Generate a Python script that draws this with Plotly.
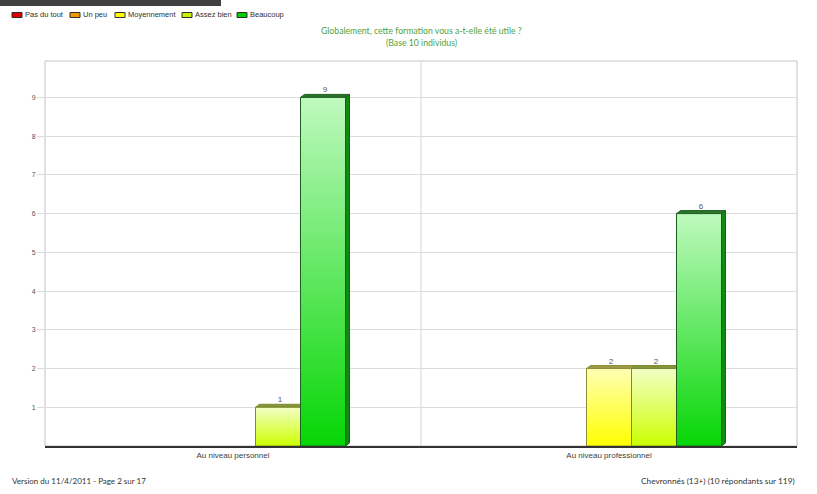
import plotly.graph_objects as go

# ---- data -------------------------------------------------------------
categories = ["Au niveau personnel", "Au niveau professionnel"]
series = ["Pas du tout", "Un peu", "Moyennement", "Assez bien", "Beaucoup"]
values = {
    "Pas du tout": [0, 0],
    "Un peu": [0, 0],
    "Moyennement": [0, 2],
    "Assez bien": [1, 2],
    "Beaucoup": [9, 6],
}
y_ticks = [1, 2, 3, 4, 5, 6, 7, 8, 9]

title_lines = ["Globalement, cette formation vous a-t-elle été utile ?", "(Base 10 individus)"]
footer_left = "Version du 11/4/2011 - Page 2 sur 17"
footer_right = "Chevronnés (13+) (10 répondants sur 119)"

# ---- styles -------------------------------------------------------------
legend_color = {
    "Pas du tout": "#e00000",
    "Un peu": "#f09400",
    "Moyennement": "#ffff00",
    "Assez bien": "#cdee00",
    "Beaucoup": "#00cc00",
}
grad = {  # bottom, top of the front face
    "Pas du tout": ("#d80000", "#ff9a9a"),
    "Un peu": ("#ff9400", "#ffd59a"),
    "Moyennement": ("#ffff00", "#ffffb4"),
    "Assez bien": ("#ccff00", "#f3ffc6"),
    "Beaucoup": ("#06d606", "#bff9bf"),
}
edge = {
    "Pas du tout": "#6a1010",
    "Un peu": "#7a5010",
    "Moyennement": "#8c8c3a",
    "Assez bien": "#7c8a30",
    "Beaucoup": "#1e5e1e",
}
side = {
    "Pas du tout": "#900000",
    "Un peu": "#a06000",
    "Moyennement": "#a8a830",
    "Assez bien": "#8aa020",
    "Beaucoup": "#108a10",
}
top_face = {
    "Pas du tout": "#802020",
    "Un peu": "#906020",
    "Moyennement": "#9a9a44",
    "Assez bien": "#86943a",
    "Beaucoup": "#2c742c",
}

W, H = 817, 494
M_L, M_R, M_T, M_B = 45, 20, 61, 48
Y_MAX = 9.94
X_RANGE = (-0.5, 1.5)

plot_w = W - M_L - M_R
plot_h = H - M_T - M_B
px_per_x = plot_w / (X_RANGE[1] - X_RANGE[0])
px_per_y = plot_h / Y_MAX

bar_w = 45 / px_per_x              # width of one bar in axis units
group_start = -2.5 * bar_w         # left edge of the group relative to its category
dx = 4 / px_per_x                  # depth offset of the 3-D faces
dy = 3 / px_per_y

xs = list(range(len(categories)))

fig = go.Figure()

# base bars (flat colour, carry the series)
for i, s in enumerate(series):
    fig.add_trace(go.Bar(
        x=xs, y=values[s], width=bar_w, offset=group_start + i * bar_w,
        marker=dict(color=grad[s][0], line=dict(width=0)),
        name=s, showlegend=False, hoverinfo="skip",
    ))

# 3-D faces and gradient fronts, drawn over the base bars
label_x, label_y, label_t = [], [], []
for i, s in enumerate(series):
    for c, v in zip(xs, values[s]):
        if v <= 0:
            continue
        xl = c + group_start + i * bar_w
        xr = xl + bar_w
        # right side face
        fig.add_trace(go.Scatter(
            x=[xr, xr + dx, xr + dx, xr, xr], y=[0, dy, v + dy, v, 0],
            mode="lines", fill="toself", fillcolor=side[s],
            line=dict(color=edge[s], width=1), showlegend=False, hoverinfo="skip",
        ))
        # top face
        fig.add_trace(go.Scatter(
            x=[xl, xl + dx, xr + dx, xr, xl], y=[v, v + dy, v + dy, v, v],
            mode="lines", fill="toself", fillcolor=top_face[s],
            line=dict(color=edge[s], width=1), showlegend=False, hoverinfo="skip",
        ))
        # front face with vertical gradient
        fig.add_trace(go.Scatter(
            x=[xl, xr, xr, xl, xl], y=[0, 0, v, v, 0],
            mode="lines", fill="toself",
            fillgradient=dict(type="vertical",
                              colorscale=[[0, grad[s][0]], [1, grad[s][1]]]),
            line=dict(color=edge[s], width=1), showlegend=False, hoverinfo="skip",
        ))
        label_x.append((xl + xr) / 2 + dx / 2)
        label_y.append(v + dy)
        label_t.append(str(v))

fig.add_trace(go.Scatter(
    x=label_x, y=label_y, text=label_t, mode="text", textposition="top center",
    textfont=dict(family="Liberation Sans", size=8, color="#555555"),
    showlegend=False, hoverinfo="skip",
))


def px_x(px):
    return (px - M_L) / plot_w


def px_y(py):
    return (H - M_B - py) / plot_h


shapes = [
    # plot frame
    dict(type="rect", xref="paper", yref="paper", x0=0, x1=1, y0=0, y1=1,
         line=dict(color="#c4c4c4", width=1), layer="below"),
    # divider between the two groups
    dict(type="line", xref="x", yref="paper", x0=0.5, x1=0.5, y0=0, y1=1,
         line=dict(color="#d4d4d4", width=1), layer="below"),
    # dark header band
    dict(type="rect", xref="paper", yref="paper", x0=px_x(0), x1=px_x(221),
         y0=px_y(6), y1=px_y(-2), fillcolor="#404040", line=dict(width=0)),
]

annotations = []

# legend row
legend_px = [12, 70, 115, 182, 237]
for s, lx in zip(series, legend_px):
    shapes.append(dict(
        type="rect", xref="paper", yref="paper",
        x0=px_x(lx), x1=px_x(lx + 10), y0=px_y(17.5), y1=px_y(12.5),
        fillcolor=legend_color[s], line=dict(color="#303030", width=1),
    ))
    annotations.append(dict(
        text=s, xref="paper", yref="paper", x=px_x(lx + 11), y=px_y(15),
        xanchor="left", yanchor="middle", showarrow=False,
        font=dict(family="Liberation Sans", size=7.5, color="#303030"),
    ))

# title
for line_txt, ty in zip(title_lines, [30, 42]):
    annotations.append(dict(
        text=line_txt, xref="paper", yref="paper", x=px_x(421), y=px_y(ty),
        xanchor="center", yanchor="middle", showarrow=False,
        font=dict(family="Lato", size=8.7, color="#4f9f3f"),
    ))

# footer
annotations.append(dict(
    text=footer_left, xref="paper", yref="paper", x=px_x(10), y=px_y(481),
    xanchor="left", yanchor="middle", showarrow=False,
    font=dict(family="Lato", size=8, color="#333333"),
))
annotations.append(dict(
    text=footer_right, xref="paper", yref="paper", x=px_x(797), y=px_y(481),
    xanchor="right", yanchor="middle", showarrow=False,
    font=dict(family="Lato", size=8.3, color="#333333"),
))

fig.update_layout(
    width=W, height=H,
    margin=dict(l=M_L, r=M_R, t=M_T, b=M_B),
    paper_bgcolor="white", plot_bgcolor="white",
    barmode="overlay",
    showlegend=False,
    shapes=shapes,
    annotations=annotations,
    xaxis=dict(
        range=list(X_RANGE), tickvals=xs, ticktext=categories,
        showgrid=False, zeroline=False, ticks="",
        showline=True, linecolor="#333333", linewidth=2,
        tickfont=dict(family="Liberation Sans", size=8, color="#404040"),
        fixedrange=True,
    ),
    yaxis=dict(
        range=[0, Y_MAX], tickvals=y_ticks,
        showgrid=True, gridcolor="#dcdcdc", gridwidth=1,
        zeroline=False, showline=False,
        ticks="outside", ticklen=7, tickcolor="#dcdcdc",
        tickfont=dict(family="Liberation Sans", size=7, color="#555555"),
        fixedrange=True,
    ),
)

fig.write_html("out.html")
